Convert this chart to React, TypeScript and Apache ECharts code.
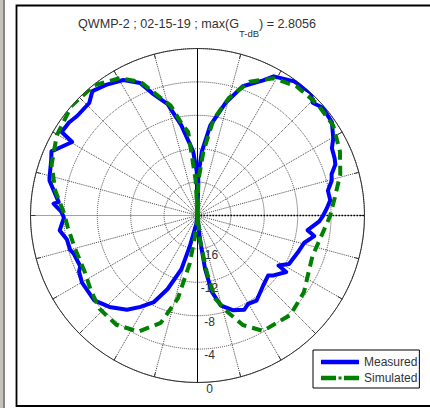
import React, { useEffect, useRef } from 'react';
import * as echarts from 'echarts';

const FONT = '"Liberation Sans", Arial, sans-serif';

const TITLE_MAIN = 'QWMP-2 ; 02-15-19 ; max(G';
const TITLE_SUB = 'T-dB';
const TITLE_TAIL = ') = 2.8056';

const SERIES_NAMES = ['Measured', 'Simulated'];

// radial scale (dB)
const RADIUS_MIN = -20;
const RADIUS_MAX = 0;
const RADIUS_STEP = 4;

// angle in degrees, clockwise from top (0 = up, 90 = right, ±180 = down)
const measuredAngles = [
  -180, -172, -166, -163.3, -157.9, -153.3, -148, -143.2, -136.1, -129.4,
  -120.2, -115.4, -113.4, -107.3, -105, -100.4, -96.2, -91, -88.5, -85.3,
  -84.5, -80, -76.8, -75.6, -69.6, -66.3, -64.2, -59.6, -58.4, -54.1,
  -50.3, -43.9, -40.2, -35, -28.7, -23.4, -20.3, -15, -10.2, -3.9,
  -1, 0,
  1.2, 3.9, 8.1, 14, 19.3, 25.9, 28.7, 35.8, 42.8, 45.6,
  49.3, 55.2, 60.4, 63.4, 67.3, 69.7, 72.9, 75.5, 79.2, 83.5,
  86.9, 90.4, 92.8, 97.6, 100, 104.3, 110.3, 117.9, 121.7, 122.5,
  128.2, 130.4, 136.8, 145.2, 150.2, 153.6, 159.6, 165.6, 169.3, 171.9,
  174, 178, 180,
];
const measuredDb = [
  -20, -19, -16.2, -13.3, -10.5, -8.4, -7.1, -5.9, -4.8, -4.0,
  -4.0, -4.3, -4.7, -4.5, -4.2, -4.1, -3.4, -4.0, -3.7, -2.7,
  -3.3, -2.5, -1.8, -1.7, -1.3, -0.9, -1.5, -2.6, -0.9, -1.0,
  -1.3, -1.3, -0.5, -0.9, -1.5, -2.7, -4.4, -6.2, -9.0, -12.3,
  -14.7, -20,
  -15.1, -12.3, -9.1, -6.1, -3.6, -2.0, -1.0, -0.2, 0, -0.7,
  -0.2, -0.4, -1.3, -2.0, -2.2, -2.4, -3.2, -3.4, -4.1, -4.0,
  -4.5, -5.0, -5.4, -6.7, -5.8, -6.8, -7.2, -7.6, -8.6, -7.4,
  -8.4, -8.9, -8.5, -7.6, -7.8, -7.4, -7.9, -8.9, -10.7, -13.5,
  -17, -19.5, -20,
];

const simulatedAngles = [
  -180, -177, -173, -170.8, -166.7, -161.1, -153, -143.4, -133.5, -125,
  -116.7, -105, -95.2, -89, -80, -70.8, -60.3, -48.9, -38.3, -29.5,
  -23.1, -13.6, -9.2, -6.4, -3, 0,
  1.4, 5.3, 9.5, 15, 21.3, 29, 37.7, 47.3, 56.5, 65.8,
  73.9, 82.4, 90, 93.7, 109.5, 125.7, 136.9, 150.4, 157.5, 162.7,
  167.9, 170.7, 174, 180,
];
const simulatedDb = [
  -20, -19, -17.4, -14.2, -9.8, -6.4, -4.4, -3.7, -3.8, -4.4,
  -4.9, -4.8, -4.4, -4.0, -2.7, -1.5, -0.6, 0, -0.1, -1.1,
  -2.6, -6.5, -9.1, -9.9, -15.8, -20,
  -15.8, -12.3, -8.3, -5.4, -2.8, -1.2, -0.5, -0.4, -0.5, -1.3,
  -2.2, -3.4, -4.1, -4.5, -5.4, -4.3, -3.7, -4.1, -5.8, -7.9,
  -9.8, -13.1, -17, -20,
];

// directions of the emphasised axis lines (top solid, right dotted)
const AXIS_TOP_ANGLE = 0;
const AXIS_RIGHT_ANGLE = 90;

export default function App() {
  const ref = useRef<HTMLDivElement>(null);

  useEffect(() => {
    if (!ref.current) return;
    const chart = echarts.init(ref.current, undefined, { renderer: 'svg' });

    const measuredData = measuredAngles.map((a, i) => [measuredDb[i], a]);
    const simulatedData = simulatedAngles.map((a, i) => [simulatedDb[i], a]);

    const option: any = {
      animation: false,
      textStyle: { fontFamily: FONT },
      title: {
        text: `{a|${TITLE_MAIN}}{b|${TITLE_SUB}}{a|${TITLE_TAIL}}`,
        left: 78,
        top: 17.5,
        padding: 0,
        textStyle: {
          fontWeight: 'normal',
          rich: {
            a: { fontSize: 12.6, fontWeight: 'normal', color: '#333', lineHeight: 15, verticalAlign: 'top', fontFamily: FONT },
            b: { fontSize: 9.5, fontWeight: 'normal', color: '#333', lineHeight: 10, verticalAlign: 'top', padding: [11, 0, 0, 0], fontFamily: FONT },
          },
        },
      },
      legend: {
        orient: 'vertical',
        left: 313,
        top: 350,
        padding: [6, 2, 4, 8],
        itemGap: 4,
        itemWidth: 38,
        itemHeight: 4.5,
        borderColor: '#000',
        borderWidth: 1,
        backgroundColor: '#fff',
        itemStyle: { borderWidth: 0 },
        textStyle: { fontSize: 12, color: '#333', fontFamily: FONT },
        data: [
          { name: SERIES_NAMES[0], icon: 'rect' },
          { name: SERIES_NAMES[1], icon: 'path://M0 0H15V4.5H0ZM17.5 0.75H20.5V3.75H17.5ZM23 0H38V4.5H23Z' },
        ],
      },
      polar: { center: [197.5, 215.5], radius: 167 },
      angleAxis: {
        type: 'value',
        min: -180,
        max: 180,
        interval: 15,
        startAngle: 270,
        clockwise: true,
        axisLine: { show: true, lineStyle: { color: '#333', width: 1 } },
        axisTick: { show: true, inside: true, length: 5, lineStyle: { color: '#333', width: 1 } },
        axisLabel: { show: false },
        splitLine: { show: true, lineStyle: { color: '#444', type: 'dotted', width: 1 } },
      },
      radiusAxis: {
        type: 'value',
        min: RADIUS_MIN,
        max: RADIUS_MAX,
        interval: RADIUS_STEP,
        axisLine: { show: true, lineStyle: { color: '#000', width: 1 } },
        axisTick: { show: false },
        axisLabel: {
          show: true,
          margin: 12,
          align: 'center',
          verticalAlign: 'top',
          fontSize: 12,
          color: '#333',
          fontFamily: FONT,
          formatter: (v: number) => (v === RADIUS_MIN ? '' : String(v)),
        },
        splitLine: { show: true, lineStyle: { color: '#444', type: 'dotted', width: 1 } },
      },
      graphic: [
        { type: 'rect', silent: true, shape: { x: 0, y: 0, width: 3, height: 408 }, style: { fill: '#c4c1ba' } },
        { type: 'line', silent: true, shape: { x1: 4, y1: 0, x2: 4, y2: 408 }, style: { stroke: '#333', lineWidth: 1.2 } },
        { type: 'rect', silent: true, z: 100, shape: { x: 16.5, y: 5.5, width: 430, height: 400.5 }, style: { fill: 'none', stroke: '#000', lineWidth: 1.8 } },
      ],
      series: [
        {
          name: 'axis-top',
          type: 'line',
          coordinateSystem: 'polar',
          silent: true,
          symbol: 'none',
          z: 1,
          data: [[RADIUS_MIN, AXIS_TOP_ANGLE], [RADIUS_MAX, AXIS_TOP_ANGLE]],
          lineStyle: { color: '#000', width: 1 },
        },
        {
          name: 'axis-right',
          type: 'line',
          coordinateSystem: 'polar',
          silent: true,
          symbol: 'none',
          z: 1,
          data: [[RADIUS_MIN, AXIS_RIGHT_ANGLE], [RADIUS_MAX, AXIS_RIGHT_ANGLE]],
          lineStyle: { color: '#000', width: 1.6, type: [1.5, 1.5] },
        },
        {
          name: SERIES_NAMES[0],
          type: 'line',
          coordinateSystem: 'polar',
          symbol: 'none',
          z: 3,
          data: measuredData,
          itemStyle: { color: '#0000ff' },
          lineStyle: { color: '#0000ff', width: 4, join: 'round' },
        },
        {
          name: SERIES_NAMES[1],
          type: 'line',
          coordinateSystem: 'polar',
          symbol: 'none',
          z: 4,
          data: simulatedData,
          itemStyle: { color: '#008000' },
          lineStyle: { color: '#008000', width: 4, type: [10, 6] },
        },
      ],
    };

    chart.setOption(option);
    return () => chart.dispose();
  }, []);

  return (
    <div
      ref={ref}
      style={{ position: 'fixed', left: 0, top: 0, width: 430, height: 408, background: '#fff' }}
    />
  );
}
